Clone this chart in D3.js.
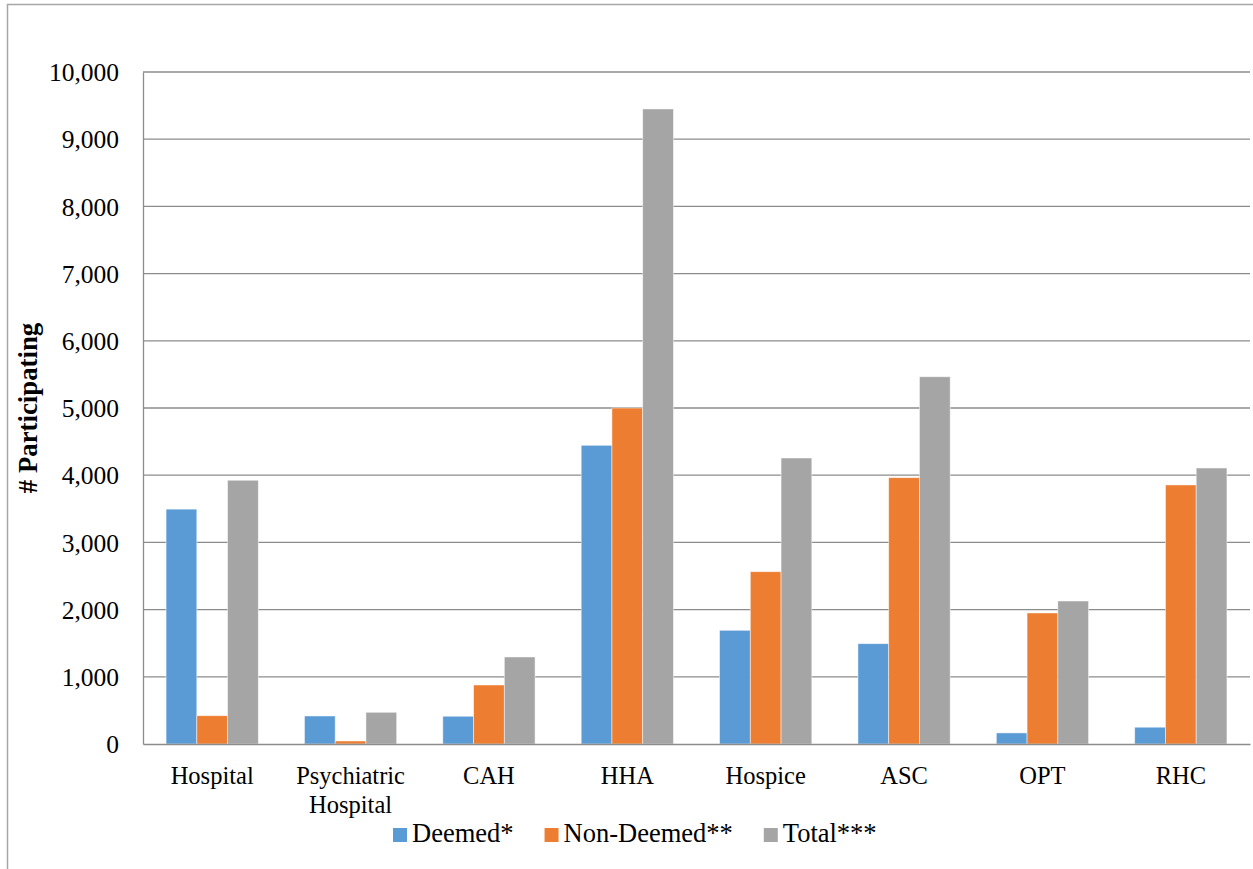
<!DOCTYPE html>
<html>
<head>
<meta charset="utf-8">
<script src="https://cdn.jsdelivr.net/npm/d3@7/dist/d3.min.js"></script>
<style>
  html, body { margin: 0; padding: 0; background: #fff; }
  svg { display: block; }
  text { font-family: "Liberation Serif", "Times New Roman", serif; fill: #000; }
</style>
</head>
<body>
<svg id="chart" width="1253" height="869"></svg>
<script>
// Participating providers by type
const categories = ["Hospital", "Psychiatric Hospital", "CAH", "HHA", "Hospice", "ASC", "OPT", "RHC"];
const seriesNames = ["Deemed*", "Non-Deemed**", "Total***"];
const deemed    = [3495, 417, 413, 4445, 1692, 1493, 165, 250];
const nonDeemed = [421, 45, 878, 5000, 2564, 3963, 1950, 3855];
const total     = [3925, 472, 1295, 9450, 4256, 5465, 2128, 4107];
const yTicks = [0, 1000, 2000, 3000, 4000, 5000, 6000, 7000, 8000, 9000, 10000];
const colors = ["#5B9BD5", "#ED7D31", "#A5A5A5"];

const seriesValues = [deemed, nonDeemed, total];

const svg = d3.select("#chart");
const W = 1253, H = 869;
const plot = { left: 143, right: 1250, top: 72, bottom: 744 };

// outer chart frame (extends past the viewport on the right and bottom)
svg.append("rect")
  .attr("x", 7.5).attr("y", 4.5)
  .attr("width", W + 20).attr("height", H + 20)
  .attr("fill", "#fff")
  .attr("stroke", "#a6a6a6").attr("stroke-width", 1.5);

const x0 = d3.scaleBand().domain(categories).range([plot.left, plot.right]).paddingInner(0).paddingOuter(0);
const x1 = d3.scaleBand().domain(seriesNames).range([0, x0.bandwidth()]).paddingInner(0).paddingOuter(0.75);
const y = d3.scaleLinear().domain([0, 10000]).range([plot.bottom, plot.top]);

// horizontal gridlines
svg.append("g")
  .selectAll("line")
  .data(yTicks.filter(d => d > 0))
  .join("line")
  .attr("x1", plot.left).attr("x2", plot.right)
  .attr("y1", d => y(d)).attr("y2", d => y(d))
  .attr("stroke", "#8c8c8c").attr("stroke-width", 1.3);

// bars
const groups = svg.append("g")
  .selectAll("g")
  .data(categories)
  .join("g")
  .attr("transform", d => `translate(${x0(d)},0)`);

groups.selectAll("rect")
  .data((c, i) => seriesNames.map((s, j) => ({ series: s, value: seriesValues[j][i], color: colors[j] })))
  .join("rect")
  .attr("x", d => x1(d.series))
  .attr("width", x1.bandwidth())
  .attr("y", d => y(d.value))
  .attr("height", d => y(0) - y(d.value))
  .attr("fill", d => d.color)
  .attr("stroke", "#ffffff").attr("stroke-opacity", 0.6).attr("stroke-width", 0.8);

// y axis
const yAxis = d3.axisLeft(y)
  .tickValues(yTicks)
  .tickFormat(d3.format(","))
  .tickSize(0)
  .tickPadding(24);
const yg = svg.append("g").attr("transform", `translate(${plot.left},0)`).call(yAxis);
yg.select(".domain").attr("stroke", "#8c8c8c").attr("stroke-width", 1.3);
yg.selectAll("text").style("font-size", "25.5px").attr("fill", "#000").attr("dy", "0.34em");

// x axis
const xAxis = d3.axisBottom(x0).tickSize(0).tickPadding(0).tickFormat("");
const xg = svg.append("g").attr("transform", `translate(0,${plot.bottom})`).call(xAxis);
xg.select(".domain").attr("stroke", "#8c8c8c").attr("stroke-width", 1.3);

// category labels, wrapped onto two lines where needed
const wrapMap = { "Psychiatric Hospital": ["Psychiatric", "Hospital"] };
xg.selectAll(".tick").each(function(d) {
  const lines = wrapMap[d] || [d];
  const t = d3.select(this).append("text")
    .attr("text-anchor", "middle")
    .style("font-size", "24.5px")
    .attr("fill", "#000");
  lines.forEach((ln, k) => {
    t.append("tspan").attr("x", 0).attr("y", 40 + k * 29).text(ln);
  });
});

// y axis title
svg.append("text")
  .attr("transform", `translate(36.5,${(plot.top + plot.bottom) / 2}) rotate(-90)`)
  .attr("text-anchor", "middle")
  .style("font-size", "26.8px")
  .style("font-weight", "bold")
  .text("# Participating");

// legend
const legend = svg.append("g").attr("transform", "translate(393,842)");
let lx = 0;
seriesNames.forEach((s, j) => {
  const item = legend.append("g").attr("transform", `translate(${lx},0)`);
  item.append("rect").attr("x", 0).attr("y", -14).attr("width", 14).attr("height", 14).attr("fill", colors[j]);
  const txt = item.append("text").attr("x", 19).attr("y", 0).style("font-size", "26.5px").text(s);
  lx += 19 + txt.node().getComputedTextLength() + 31;
});
</script>
</body>
</html>
